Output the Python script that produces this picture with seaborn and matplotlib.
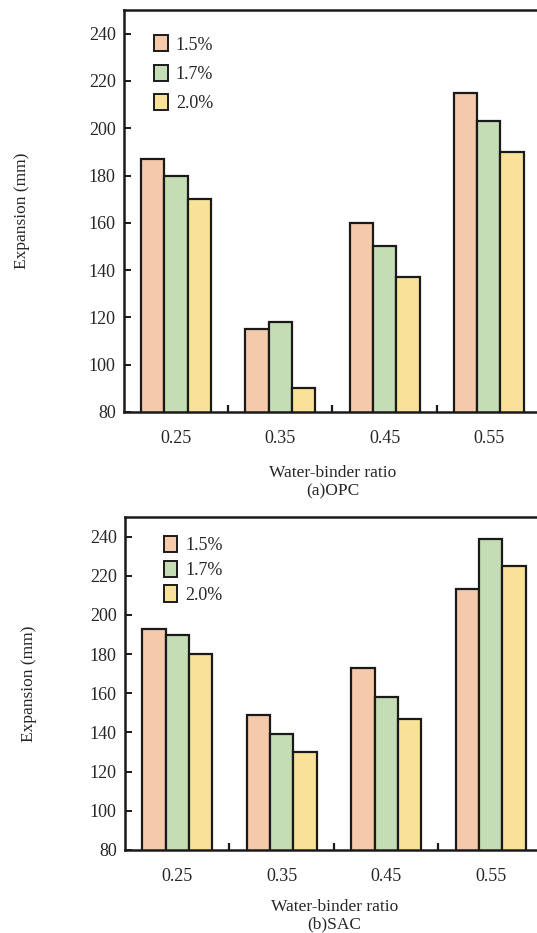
import matplotlib
matplotlib.use('Agg')
import matplotlib.pyplot as plt
import pandas as pd
import seaborn as sns

# data
ratios = ['0.25', '0.35', '0.45', '0.55']
dosages = ['1.5%', '1.7%', '2.0%']
opc_15 = [187, 115, 160, 215]
opc_17 = [180, 118, 150, 203]
opc_20 = [170, 90, 137, 190]
sac_15 = [193, 149, 173, 213]
sac_17 = [190, 139, 158, 239]
sac_20 = [180, 130, 147, 225]
colors = ['#F5CAAB', '#C5DDB4', '#F8E299']

sns.set_theme(style='white')
plt.rcParams['font.family'] = ['Liberation Serif', 'DejaVu Serif']
plt.rcParams['font.size'] = 12


def long_df(s15, s17, s20):
    rows = []
    for d, vals in zip(dosages, [s15, s17, s20]):
        for r, v in zip(ratios, vals):
            rows.append({'ratio': r, 'dosage': d, 'value': v})
    return pd.DataFrame(rows)


fig = plt.figure(figsize=(5.37, 9.33), dpi=100)
ax1 = fig.add_axes([124 / 537, 1 - 412 / 933, 418 / 537, 402 / 933])
ax2 = fig.add_axes([125 / 537, 1 - 850 / 933, 419 / 537, 333 / 933])

panels = [
    (ax1, long_df(opc_15, opc_17, opc_20), '(a)OPC', 0.62, -0.225, (0.055, 0.955)),
    (ax2, long_df(sac_15, sac_17, sac_20), '(b)SAC', 0.36, -0.21, (0.075, 0.965)),
]

for ax, df, tag, lspace, ylab_x, anchor in panels:
    sns.barplot(data=df, x='ratio', y='value', hue='dosage', palette=colors,
                width=0.67, edgecolor='#1a1a1a', linewidth=1.6, ax=ax,
                saturation=1)
    ax.set_ylim(80, 250)
    ax.set_xlim(-0.5, 3.51)
    ax.set_yticks(range(80, 241, 20))
    ax.set_xticks([0, 1, 2, 3])
    ax.set_xticklabels(ratios)
    ax.set_xticks([0.5, 1.5, 2.5], minor=True)
    ax.tick_params(axis='x', which='major', length=0, pad=13, labelsize=13)
    ax.tick_params(axis='x', which='minor', direction='in', length=5,
                   width=1.6, color='#1a1a1a', bottom=True)
    ax.tick_params(axis='y', direction='in', length=5, width=1.4,
                   color='#1a1a1a', left=True, labelsize=13, pad=6)
    for side in ['left', 'bottom', 'top']:
        ax.spines[side].set_linewidth(1.8)
        ax.spines[side].set_color('#1a1a1a')
    ax.spines['right'].set_visible(False)
    ax.set_xlabel('Water-binder ratio\n' + tag, fontsize=12.5, linespacing=1.15)
    ax.set_ylabel('Expansion (mm)', fontsize=12.5)
    ax.yaxis.set_label_coords(ylab_x, 0.5)
    leg = ax.legend(loc='upper left', frameon=False, fontsize=13,
                    handlelength=0.75, handleheight=1.0, handletextpad=0.45,
                    labelspacing=lspace, borderaxespad=0.0,
                    bbox_to_anchor=anchor)
    for h in leg.legend_handles:
        h.set_edgecolor('#1a1a1a')
        h.set_linewidth(1.4)

ax1.xaxis.labelpad = 13
ax2.xaxis.labelpad = 10

fig.savefig('out.png', dpi=100)
